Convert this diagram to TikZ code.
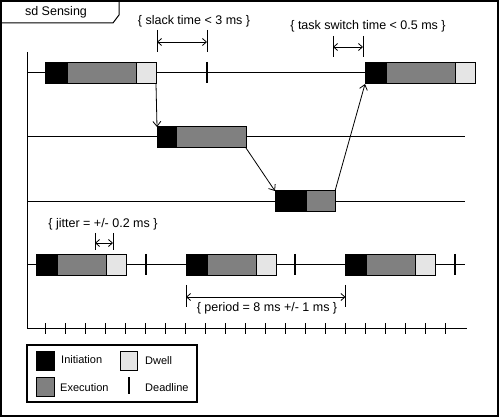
\documentclass[tikz,border=0pt]{standalone}
\usepackage{fontspec}
\setmainfont{Liberation Sans}
\usetikzlibrary{arrows.meta}

\begin{document}
\begin{tikzpicture}[x=1pt,y=-1pt,
    seg/.style={draw,line width=1pt,inner sep=0pt,outer sep=0pt,anchor=west,minimum height=21pt},
    init/.style={seg,fill=black},
    exec/.style={seg,fill=gray},
    dwell/.style={seg,fill=black!10},
    deadline/.style={line width=2.5pt},
    msg/.style={-{Straight Barb[length=5pt,width=8pt]},line width=0.8pt},
    dim/.style={{Straight Barb[length=4pt,width=7pt]}-{Straight Barb[length=4pt,width=7pt]},line width=0.8pt},
    note/.style={font=\fontsize{12.5}{15}\selectfont,inner sep=0pt},
    key/.style={font=\fontsize{11}{13}\selectfont,anchor=west,inner sep=0pt}]
\useasboundingbox (0,0) rectangle (500,419);
% frame and tab
\draw[line width=1.3pt] (1,1) rectangle (498,416);
\draw[line width=1pt] (1,23) -- (113,23) -- (119,15) -- (119,1);
\node[note] (title) at (56,12) {sd Sensing};

% axes with ticks
\draw[line width=1pt] (27,52) -- (27,328) -- (467,328);
\foreach \k in {0,...,20}
  \draw[line width=0.8pt] ({45.8+19.96*\k},323) -- ++(0,11);

% lifelines
\draw[line width=1pt] (27,73) -- (365,73);
\draw[line width=1pt] (27,137) -- (465,137);
\draw[line width=1pt] (27,202) -- (465,202);
\draw[line width=1pt] (27,265) -- (465,265);

% top line
\node[init,minimum width=22pt] (i1) at (45,73.5) {};
\node[exec,minimum width=69pt] (e1) at (i1.east) {};
\node[dwell,minimum width=20pt] (d1) at (e1.east) {};
\draw[deadline] (207,62) -- (207,83);
\node[init,minimum width=21pt] (i4) at (365,73.5) {};
\node[exec,minimum width=69pt] (e4) at (i4.east) {};
\node[dwell,minimum width=20pt] (d4) at (e4.east) {};

% second and third line
\node[init,minimum width=19pt] (i2) at (157,137.5) {};
\node[exec,minimum width=70pt] (e2) at (i2.east) {};
\node[init,minimum width=31pt] (i3) at (275,201.5) {};
\node[exec,minimum width=29pt] (e3) at (i3.east) {};

% task switches
\draw[msg] (d1.south east) -- (i2.north west);
\draw[msg] (e2.south east) -- (i3.north west);
\draw[msg] (e3.north east) -- (i4.south west);

% periodic line
\foreach \x/\n in {36/a,186/b,345/c}{
  \node[init,minimum width=21pt] (i\n) at (\x,265) {};
  \node[exec,minimum width=49pt] (e\n) at (i\n.east) {};
  \node[dwell,minimum width=20pt] (d\n) at (e\n.east) {};
}
\foreach \x in {146,295,455}
  \draw[deadline] (\x,254) -- (\x,275);

% constraints
\draw[line width=0.8pt] (157,30) -- (157,52) (207,30) -- (207,52);
\draw[dim] (157,42) -- (207,42);
\node[note] (slack) at (194,21) {\{ slack time < 3 ms \}};
\draw[line width=0.8pt] (333,36) -- (333,57) (363,36) -- (363,57);
\draw[dim] (333,47) -- (363,47);
\node[note] (switch) at (368,26) {\{ task switch time < 0.5 ms \}};
\draw[line width=0.8pt] (95,233) -- (95,250) (113,233) -- (113,250);
\draw[dim] (95,243) -- (113,243);
\node[note] (jitter) at (103,224) {\{ jitter = +/- 0.2 ms \}};
\draw[line width=0.8pt] (186,285) -- (186,307) (345.5,285) -- (345.5,307);
\draw[dim] (186,297) -- (345.5,297);
\node[note] (period) at (267,308) {\{ period = 8 ms +/- 1 ms \}};

% legend
\draw[line width=1.2pt] (27,345) rectangle (197,402);
\node[init,anchor=center,minimum width=18pt,minimum height=19pt] (kinit) at (45,360.5) {};
\node[dwell,anchor=center,minimum width=17pt,minimum height=19pt] (kdwell) at (128.5,360.5) {};
\node[exec,anchor=center,minimum width=18pt,minimum height=19pt] (kexec) at (45,387) {};
\draw[deadline] (129,377) -- (129,394);
\node[key] (tinit) at (61,360) {Initiation};
\node[key] (tdwell) at (145,361) {Dwell};
\node[key] (texec) at (60,388) {Execution};
\node[key] (tdead) at (145,388) {Deadline};
\end{tikzpicture}
\end{document}
